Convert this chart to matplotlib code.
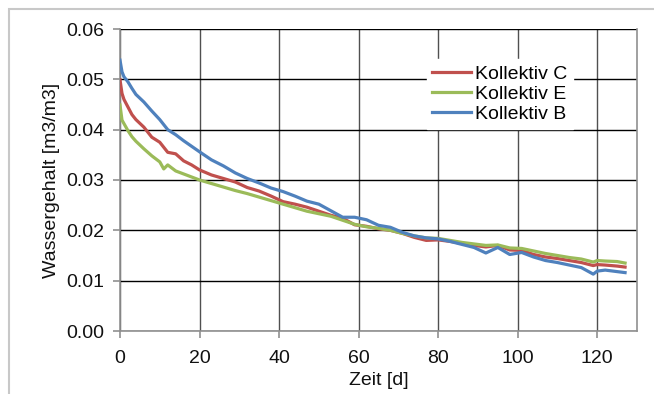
import matplotlib.pyplot as plt
from matplotlib.patches import Rectangle

plt.rcParams['font.family'] = ['Liberation Sans', 'DejaVu Sans']

days = [0, 0.5, 1, 2, 3, 4, 6, 8, 10, 11, 12, 14, 16, 18, 20, 23, 26, 29, 32, 35,
        38, 41, 44, 47, 50, 53, 56, 59, 62, 65, 68, 71, 74, 77, 80, 83, 86, 89,
        92, 95, 98, 101, 104, 107, 110, 113, 116, 119, 120, 122, 125, 127]

kollektiv_c = [0.0499, 0.0472, 0.0460, 0.0445, 0.0430, 0.0420, 0.0405, 0.0385, 0.0375, 0.0365,
               0.0355, 0.0352, 0.0338, 0.0330, 0.0320, 0.0310, 0.0303, 0.0296, 0.0285, 0.0278,
               0.0268, 0.0257, 0.0252, 0.0246, 0.0238, 0.0230, 0.0224, 0.0211, 0.0208, 0.0203,
               0.0200, 0.0194, 0.0186, 0.0180, 0.0181, 0.0178, 0.0174, 0.0170, 0.0167, 0.0170,
               0.0161, 0.0160, 0.0152, 0.0147, 0.0144, 0.0140, 0.0136, 0.0130, 0.0132, 0.0131,
               0.0129, 0.0127]

kollektiv_e = [0.0449, 0.0419, 0.0412, 0.0398, 0.0386, 0.0377, 0.0362, 0.0348, 0.0336, 0.0322,
               0.0330, 0.0318, 0.0312, 0.0306, 0.0300, 0.0293, 0.0286, 0.0279, 0.0273, 0.0266,
               0.0259, 0.0252, 0.0245, 0.0238, 0.0233, 0.0228, 0.0220, 0.0212, 0.0207, 0.0204,
               0.0200, 0.0194, 0.0189, 0.0185, 0.0184, 0.0180, 0.0176, 0.0173, 0.0170, 0.0171,
               0.0165, 0.0164, 0.0159, 0.0154, 0.0150, 0.0146, 0.0143, 0.0137, 0.0140, 0.0139,
               0.0138, 0.0135]

kollektiv_b = [0.0538, 0.0515, 0.0505, 0.0495, 0.0482, 0.0470, 0.0455, 0.0437, 0.0420, 0.0410,
               0.0400, 0.0390, 0.0378, 0.0367, 0.0356, 0.0340, 0.0328, 0.0314, 0.0303, 0.0294,
               0.0284, 0.0277, 0.0268, 0.0258, 0.0252, 0.0239, 0.0226, 0.0226, 0.0221, 0.0210,
               0.0206, 0.0196, 0.0189, 0.0185, 0.0183, 0.0178, 0.0172, 0.0166, 0.0155, 0.0166,
               0.0152, 0.0156, 0.0147, 0.0140, 0.0136, 0.0131, 0.0126, 0.0113, 0.0119, 0.0121,
               0.0118, 0.0116]

fig = plt.figure(figsize=(6.54, 3.94), dpi=100)
# chart area frame (light gray, Excel style)
fig.patches.append(Rectangle((9 / 654, -0.05), 1.0, (394 - 9) / 394 + 0.05,
                             transform=fig.transFigure, fill=False,
                             edgecolor='#c8c8c8', linewidth=1.5))

ax = fig.add_axes([120 / 654, 63 / 394, 517 / 654, 302 / 394])

ax.plot(days, kollektiv_c, color='#C0504D', lw=2.3, label='Kollektiv C', zorder=3)
ax.plot(days, kollektiv_e, color='#9BBB59', lw=2.3, label='Kollektiv E', zorder=3)
ax.plot(days, kollektiv_b, color='#4F81BD', lw=2.3, label='Kollektiv B', zorder=3)

ax.set_xlim(0, 130)
ax.set_ylim(0, 0.06)
ax.set_xticks([0, 20, 40, 60, 80, 100, 120])
ax.set_yticks([0.00, 0.01, 0.02, 0.03, 0.04, 0.05, 0.06])
ax.set_yticklabels(['0.00', '0.01', '0.02', '0.03', '0.04', '0.05', '0.06'])

ax.yaxis.grid(True, color='black', lw=1.0)
ax.xaxis.grid(True, color='#505050', lw=1.0)
ax.set_axisbelow(True)
for s in ax.spines.values():
    s.set_color('#909090')
    s.set_linewidth(1.2)
ax.spines['top'].set_visible(False)

ax.tick_params(axis='both', direction='out', length=5, color='#909090', width=1.2,
               labelsize=14, labelcolor='#111111')
ax.tick_params(axis='y', pad=6)
ax.tick_params(axis='x', pad=9)

ax.set_xlabel('Zeit [d]', fontsize=14, color='#111111', labelpad=3)
ax.set_ylabel('Wassergehalt [m3/m3]', fontsize=14, color='#111111', labelpad=5)

leg = ax.legend(loc='center', bbox_to_anchor=(0.735, 0.785), frameon=True,
                fontsize=14, handlelength=2.0, handletextpad=0.2, labelspacing=0.12,
                borderpad=0.3, fancybox=False)
leg.get_frame().set_edgecolor('white')
leg.get_frame().set_facecolor('white')
leg.get_frame().set_alpha(1.0)

fig.savefig('out.png', dpi=100)
